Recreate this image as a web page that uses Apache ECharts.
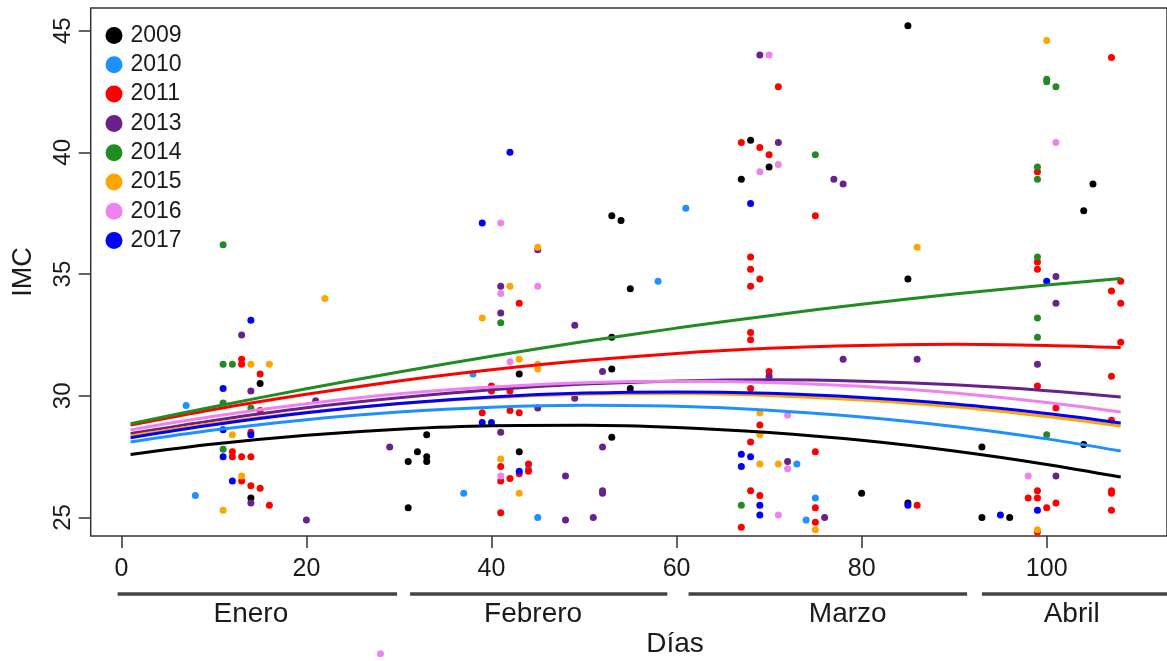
<!DOCTYPE html>
<html>
<head>
<meta charset="utf-8">
<script src="https://cdn.jsdelivr.net/npm/echarts@6/dist/echarts.min.js"></script>
<style>
  html, body { margin: 0; padding: 0; background: #fff; }
  #chart { width: 1167px; height: 661px; }
</style>
</head>
<body>
<div id="chart"></div>
<script>
// Años y colores de cada serie
const years = ['2009', '2010', '2011', '2013', '2014', '2015', '2016', '2017'];
const colors = ['#000000', '#1E90FF', '#FF0000', '#68228B', '#228B22', '#FFA500', '#EE82EE', '#0000FF'];

// Observaciones: [día, IMC]
const pts2009 = [[15,30.5],[14,25.8],[31,27.3],[32,27.7],[33,28.4],[33,27.5],[33,27.3],[31,25.4],[43,30.9],[43,27.7],
  [53,37.4],[54,37.2],[55,34.4],[53,32.4],[53,31.1],[55,30.3],[53,28.3],[68,40.5],[70,39.4],[67,38.9],[85,45.2],
  [85,34.8],[80,26.0],[85,25.6],[93,27.9],[93,25.0],[96,25.0],[105,38.7],[104,37.6],[104,28.0]];
const pts2010 = [[7,29.6],[8,25.9],[38,30.9],[37,26.0],[45,25.0],[44,27.0],[58,34.7],[61,37.7],[73,27.2],[75,25.8],[74,24.9]];
const pts2011 = [[13,31.5],[13,31.3],[15,30.9],[15,29.4],[14,28.5],[12,27.7],[12,27.5],[13,27.5],[14,27.5],[13,26.5],
  [14,26.3],[15,26.2],[16,25.5],[43,33.8],[40,30.4],[40,30.2],[42,30.2],[39,29.3],[42,29.4],[43,29.3],[41,27.1],
  [44,27.2],[43,26.8],[44,26.9],[41,26.5],[42,26.6],[41,25.2],[71,42.7],[67,40.4],[69,40.2],[70,39.9],[75,37.4],
  [68,35.7],[68,35.2],[69,34.8],[68,34.5],[68,32.6],[68,32.3],[70,31.0],[68,30.3],[69,28.8],[68,28.1],[75,27.7],
  [68,26.1],[69,25.9],[75,25.4],[75,24.8],[67,24.6],[86,25.5],[107,43.9],[99,39.2],[99,35.5],[99,35.2],[108,34.7],
  [107,34.3],[108,33.8],[108,32.2],[99,30.4],[107,30.8],[101,29.5],[107,29.0],[99,26.1],[98,25.8],[99,25.8],
  [107,26.1],[107,26.0],[101,25.6],[100,25.4],[107,25.3],[99,24.4]];
const pts2013 = [[13,32.5],[14,30.2],[21,29.8],[14,25.6],[20,24.9],[29,27.9],[41,34.5],[45,36.0],[41,33.4],[49,32.9],
  [52,31.0],[49,29.9],[45,29.5],[41,28.5],[52,27.9],[48,26.7],[52,26.1],[52,26.0],[48,24.9],[51,25.0],[69,44.0],
  [71,40.4],[77,38.9],[78,38.7],[78,31.5],[86,31.5],[70,30.8],[72,27.3],[76,25.0],[101,34.9],[101,33.8],[99,31.3],[101,26.7]];
const pts2014 = [[11,36.2],[11,31.3],[12,31.3],[11,29.7],[14,29.5],[11,27.8],[41,33.0],[75,39.9],[67,25.5],
  [100,43.0],[100,42.9],[101,42.7],[99,39.4],[99,38.9],[99,35.7],[99,33.2],[99,32.4],[100,28.4]];
const pts2015 = [[22,34.0],[14,31.3],[16,31.3],[12,28.4],[13,26.7],[11,25.3],[45,36.1],[42,34.5],[39,33.2],[43,31.5],
  [45,31.3],[45,31.1],[41,27.4],[43,26.0],[86,36.1],[69,29.3],[69,28.4],[69,27.2],[71,27.2],[75,24.5],[100,44.6],[99,24.5]];
const pts2016 = [[41,37.1],[45,34.5],[41,34.2],[42,31.4],[41,26.7],[70,44.0],[71,39.5],[69,39.2],[72,29.2],[72,27.0],
  [71,25.1],[101,40.4],[98,26.7],[28,19.4]];
const pts2017 = [[14,33.1],[11,30.3],[11,28.6],[14,28.4],[11,27.5],[12,26.5],[42,40.0],[39,37.1],[39,28.9],[40,28.9],
  [43,26.9],[68,37.9],[67,27.6],[68,27.5],[67,27.1],[69,25.5],[69,25.1],[85,25.5],[100,34.7],[95,25.1],[99,25.3]];
const points = [pts2009, pts2010, pts2011, pts2013, pts2014, pts2015, pts2016, pts2017];

const curveX = [1, 10, 20, 30, 40, 50, 60, 70, 80, 90, 100, 108];
const fit2009 = [27.59, 28.02, 28.38, 28.63, 28.77, 28.79, 28.70, 28.49, 28.17, 27.73, 27.18, 26.66];
const fit2010 = [28.10, 28.59, 29.02, 29.33, 29.53, 29.61, 29.57, 29.41, 29.13, 28.74, 28.23, 27.73];
const fit2011 = [28.80, 29.44, 30.06, 30.61, 31.07, 31.45, 31.74, 31.95, 32.07, 32.12, 32.07, 31.98];
const fit2013 = [28.45, 28.99, 29.51, 29.92, 30.25, 30.48, 30.61, 30.66, 30.60, 30.45, 30.21, 29.95];
const fit2014 = [28.85, 29.55, 30.29, 30.98, 31.62, 32.23, 32.78, 33.29, 33.76, 34.18, 34.55, 34.82];
const fit2015 = [28.35, 28.86, 29.32, 29.67, 29.92, 30.06, 30.09, 30.01, 29.83, 29.55, 29.15, 28.76];
const fit2016 = [28.60, 29.16, 29.67, 30.08, 30.36, 30.54, 30.60, 30.55, 30.39, 30.11, 29.72, 29.33];
const fit2017 = [28.28, 28.81, 29.30, 29.68, 29.95, 30.11, 30.16, 30.10, 29.93, 29.66, 29.27, 28.88];
const fits = [fit2009, fit2010, fit2011, fit2013, fit2014, fit2015, fit2016, fit2017];

// Meses bajo el eje de días
const months = ['Enero', 'Febrero', 'Marzo', 'Abril'];
const monthStart = [-0.4, 31.2, 61.3, 93.0];
const monthEnd = [29.8, 59.0, 91.4, 118];
const monthLabelAt = [14, 44.5, 78.5, 102.7];

// Marcas de los ejes
const xTicks = [0, 20, 40, 60, 80, 100];
const yTicks = [25, 30, 35, 40, 45];

const X_MIN = -3.31, X_MAX = 113;
const Y_MIN = 24.24, Y_MAX = 45.93;
const FONT = '"Liberation Sans", Arial, Helvetica, sans-serif';
const INK = '#1a1a1a';

const chart = echarts.init(document.getElementById('chart'));

const series = [];
years.forEach((y, i) => {
  series.push({
    name: y, type: 'scatter', data: points[i], symbol: 'circle', symbolSize: 7,
    itemStyle: { color: colors[i], opacity: 1 }, clip: false, z: 2, silent: true
  });
});
years.forEach((y, i) => {
  series.push({
    name: y, type: 'line', data: curveX.map((x, k) => [x, fits[i][k]]),
    smooth: 0.35, showSymbol: false, symbol: 'none',
    lineStyle: { color: colors[i], width: 3 }, itemStyle: { color: colors[i] }, z: 3, silent: true
  });
});
series.push({
  type: 'custom', silent: true, clip: false, z: 4,
  data: months.map((m, i) => [monthStart[i], monthEnd[i], monthLabelAt[i], Y_MIN]),
  encode: { x: [0, 1, 2], y: 3 },
  renderItem: function (params, api) {
    const a = api.coord([api.value(0), Y_MIN]);
    const b = api.coord([api.value(1), Y_MIN]);
    const c = api.coord([api.value(2), Y_MIN]);
    return {
      type: 'group',
      children: [
        { type: 'line', shape: { x1: a[0], y1: a[1] + 58, x2: b[0], y2: b[1] + 58 },
          style: { stroke: '#444', lineWidth: 3.5 } },
        { type: 'text', x: c[0], y: c[1] + 78,
          style: { text: months[params.dataIndex], align: 'center', verticalAlign: 'middle',
                   fontSize: 28, fontFamily: FONT, fill: INK } }
      ]
    };
  }
});

chart.setOption({
  animation: false,
  backgroundColor: '#fff',
  grid: { left: 90.7, top: 8, width: 1090.4, height: 528, show: true, borderColor: '#333', borderWidth: 1.5, containLabel: false },
  legend: {
    data: years.map(y => ({ name: y, icon: 'circle' })),
    orient: 'vertical', left: 100.5, top: 19, itemWidth: 17, itemHeight: 17, itemGap: 6.3,
    selectedMode: false,
    textStyle: { fontSize: 23, lineHeight: 17, fontFamily: FONT, color: INK, padding: [0, 0, 0, 3] }
  },
  xAxis: {
    type: 'value', min: X_MIN, max: X_MAX,
    axisLine: { show: false, onZero: false },
    splitLine: { show: false },
    axisTick: { show: true, length: 12, customValues: xTicks, lineStyle: { color: '#333', width: 1.5 } },
    axisLabel: { customValues: xTicks, fontSize: 25, fontFamily: FONT, color: INK, margin: 21 }
  },
  yAxis: {
    type: 'value', min: Y_MIN, max: Y_MAX,
    name: 'IMC', nameLocation: 'middle', nameRotate: 90, nameGap: 54,
    nameTextStyle: { fontSize: 27, fontFamily: FONT, color: INK },
    axisLine: { show: false, onZero: false },
    splitLine: { show: false },
    axisTick: { show: true, length: 12, customValues: yTicks, lineStyle: { color: '#333', width: 1.5 } },
    axisLabel: { customValues: yTicks, rotate: 90, fontSize: 24, fontFamily: FONT, color: INK, margin: 15 }
  },
  graphic: [
    { type: 'text', x: 675, y: 644, style: { text: 'Días', align: 'center', verticalAlign: 'middle', fontSize: 28, fontFamily: FONT, fill: INK } }
  ],
  series: series
});
</script>
</body>
</html>
